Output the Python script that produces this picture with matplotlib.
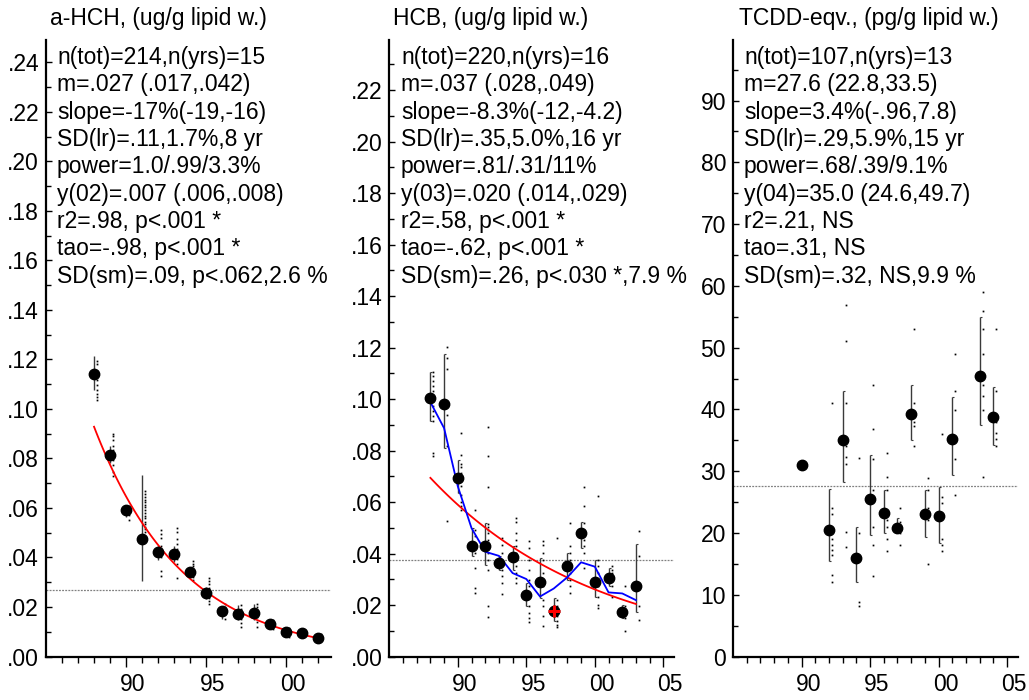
import matplotlib
matplotlib.use("Agg")
import matplotlib.pyplot as plt
import numpy as np
from matplotlib.ticker import FixedLocator, FuncFormatter
from matplotlib.transforms import ScaledTranslation

plt.rcParams['font.family'] = ['Liberation Sans', 'DejaVu Sans']
plt.rcParams['font.size'] = 16.5

# ---------------- a-HCH ----------------
hch_years = [1988, 1989, 1990, 1991, 1992, 1993, 1994, 1995, 1996, 1997, 1998, 1999, 2000, 2001, 2002]
hch_means = [.114, .0815, .0593, .0474, .0424, .0415, .034, .0257, .0182, .017, .0174, .0133, .0097, .0093, .0074]
hch_ci_lo = [.1075, .0782, .0563, .0304, .0388, .0381, .032, .0232, .0152, .0146, .0146, .0118, .0086, .0084, .007]
hch_ci_hi = [.1213, .0849, .0603, .0734, .0448, .0448, .0361, .0281, .0199, .0206, .0213, .0148, .0116, .0108, .009]
hch_samples = [
    [.1193, .118, .1155, .1135, .1115, .1095, .1075, .106, .1048, .1037],
    [.09, .0889, .0875, .0849, .0836, .0816, .0795, .0772, .0747, .073],
    [.0606, .0597, .0583, .057, .0553],
    [.0668, .0655, .0646, .0633, .0624, .0611, .0602, .0590, .058, .0568, .0558, .0545, .0536, .0524, .0513, .0502],
    [.0509, .0496, .048, .0448, .0435, .0415, .0401, .0347, .0327],
    [.052, .0502, .0475, .0455, .0435, .0415, .0395, .0374, .0318],
    [.0385, .0374, .0364, .035, .0334, .032, .031],
    [.0318, .0305, .0291, .0278, .0264, .0251, .0238, .0224, .0213],
    [.0213, .0199, .0186, .0172, .0152],
    [.0206, .0193, .0186, .0152, .0135, .0118],
    [.0213, .0199, .0183, .0169, .0159, .014, .0118],
    [.0148, .0138, .0129, .012, .0113],
    [.0116, .0108, .0099, .0089, .0078],
    [.0108, .0101, .0095, .0088],
    [.009, .0083, .0076, .0068],
]
hch_fit_ends = (.0928, .0074)
hch_mean_level = .027
hch_stats = ["n(tot)=214,n(yrs)=15", "m=.027 (.017,.042)", "slope=-17%(-19,-16)",
             "SD(lr)=.11,1.7%,8 yr", "power=1.0/.99/3.3%", "y(02)=.007 (.006,.008)",
             "r2=.98, p<.001 *", "tao=-.98, p<.001 *", "SD(sm)=.09, p<.062,2.6 %"]

# ---------------- HCB ----------------
hcb_years = [1988, 1989, 1990, 1991, 1992, 1993, 1994, 1995, 1996, 1997, 1998, 1999, 2000, 2001, 2002, 2003]
hcb_means = [.1004, .098, .0692, .0428, .0429, .0363, .0385, .0239, .029, .0175, .0353, .0478, .0289, .0306, .0174, .0274]
hcb_smooth = [.0988, .0887, .0661, .0499, .0407, .0391, .0324, .0301, .0233, .0264, .0308, .0366, .0349, .0249, .0245, .0219]
hcb_ci_lo = [.0913, .0809, .0636, .0389, .0357, .0337, .0337, .0195, .0227, .0137, .0298, .0421, .0233, .0272, .0149, .0171]
hcb_ci_hi = [.1107, .1176, .0764, .05, .0518, .0389, .0428, .0285, .0382, .0227, .0402, .0524, .0376, .0343, .0201, .0437]
hcb_samples = [
    [.1107, .1091, .1069, .1049, .103, .101, .0991, .0972, .0952, .0933, .0913, .079, .0777],
    [.1204, .1159, .1116, .0978, .094, .0816, .0525],
    [.087, .0784, .0749, .0736, .0713, .0687, .0664, .0628, .0602, .0583, .0568],
    [.0568, .0493, .0467, .0428, .0402, .0343, .0266, .0246],
    [.0891, .0777, .066, .0516, .0505, .0492, .0479, .0454, .0428, .0402, .0376, .0335, .0195, .0152],
    [.046, .0434, .0402, .037, .0337, .0314, .0285, .0244],
    [.0538, .0521, .048, .0454, .0428, .0402, .0376, .035, .0324, .0305, .0285],
    [.0447, .0421, .0376, .0337, .0298, .0272, .0233, .0195, .0169, .0149, .0133],
    [.0447, .0434, .0402, .0376, .0324, .0272, .0221, .0195, .0156, .0119],
    [.046, .0221, .0195, .0175, .0156, .0137, .0124, .0114],
    [.0518, .0428, .0402, .0376, .035, .0324, .0298, .0272, .0246],
    [.0658, .0585, .0518, .0492, .0467, .0454, .0428, .0402, .0343],
    [.0622, .0376, .035, .0324, .0298, .0272, .0233, .0201, .0188],
    [.035, .0337, .0324, .0311, .0298, .0272, .0231],
    [.0275, .0195, .0175, .0162, .0149, .0101],
    [.0486, .0391, .0195, .0143],
]
hcb_fit_ends = (.0694, .0204)
hcb_mean_level = .0375
hcb_flagged_year = 1997
hcb_stats = ["n(tot)=220,n(yrs)=16", "m=.037 (.028,.049)", "slope=-8.3%(-12,-4.2)",
             "SD(lr)=.35,5.0%,16 yr", "power=.81/.31/11%", "y(03)=.020 (.014,.029)",
             "r2=.58, p<.001 *", "tao=-.62, p<.001 *", "SD(sm)=.26, p<.030 *,7.9 %"]

# ---------------- TCDD-eqv. ----------------
tcdd_years = [1990, 1992, 1993, 1994, 1995, 1996, 1997, 1998, 1999, 2000, 2001, 2003, 2004]
tcdd_means = [31.0, 20.5, 35.0, 15.9, 25.5, 23.2, 20.8, 39.3, 23.0, 22.7, 35.2, 45.4, 38.7]
tcdd_ci_lo = [np.nan, 15.4, 28.3, 12.0, 19.7, 20.0, 20.1, 35.0, 19.4, 18.4, 29.4, 37.5, 34.2]
tcdd_ci_hi = [np.nan, 27.1, 42.9, 21.0, 32.6, 27.0, 22.4, 44.0, 27.0, 27.5, 42.0, 54.9, 43.7]
tcdd_samples = [
    [],
    [41, 24, 23.1, 19, 18.1, 17.3, 16.4, 13.2, 12.1],
    [56.9, 51, 41, 34, 32.3, 31.2, 20.1, 17.7],
    [32.1, 20, 16, 8.9, 8.1],
    [44, 36.9, 31.9, 27, 25.5, 21, 18.1, 13.1],
    [33, 29, 27, 22.1, 21, 19.1, 17],
    [24, 21.8, 20.8, 20, 18.1],
    [53, 41, 38, 37.3, 34],
    [28.9, 27, 24, 22.1, 15],
    [36, 25.9, 24.8, 22.9, 19.1, 18.1, 17],
    [49, 42.9, 39.9, 31.9, 26.2],
    [59, 56, 53, 49, 44, 42.1, 39.9, 29.1],
    [53, 42.9, 38, 36.1, 35.2, 34.1],
]
tcdd_mean_level = 27.6
tcdd_stats = ["n(tot)=107,n(yrs)=13", "m=27.6 (22.8,33.5)", "slope=3.4%(-.96,7.8)",
              "SD(lr)=.29,5.9%,15 yr", "power=.68/.39/9.1%", "y(04)=35.0 (24.6,49.7)",
              "r2=.21, NS", "tao=.31, NS", "SD(sm)=.32, NS,9.9 %"]

titles = ["a-HCH, (ug/g lipid w.)", "HCB, (ug/g lipid w.)", "TCDD-eqv., (pg/g lipid w.)"]

W, H = 1029, 700
fig = plt.figure(figsize=(W / 100, H / 100), dpi=100)

ax_left_px = [46, 389.3, 733]
ax_w_px = 285
ax_top_px, ax_bot_px = 40, 656.5


def make_axes(i, xmax, ymax, ymajor, yminor, yfmt, xmajor):
    ax = fig.add_axes([ax_left_px[i] / W, (H - ax_bot_px) / H, ax_w_px / W, (ax_bot_px - ax_top_px) / H])
    ax.set_xlim(1985, xmax)
    ax.set_ylim(0, ymax)
    for s in ("top", "right"):
        ax.spines[s].set_visible(False)
    for s in ("left", "bottom"):
        ax.spines[s].set_linewidth(1.6)
    ax.yaxis.set_major_locator(FixedLocator(ymajor))
    ax.yaxis.set_minor_locator(FixedLocator(yminor))
    ax.yaxis.set_major_formatter(FuncFormatter(yfmt))
    ax.tick_params(axis="y", which="major", direction="in", length=4.5, width=1, pad=5, labelsize=16.5)
    ax.tick_params(axis="y", which="minor", direction="in", length=3.5, width=1)
    minor_x = [y for y in range(1986, int(xmax) + 1) if y not in xmajor]
    ax.xaxis.set_major_locator(FixedLocator(xmajor))
    ax.xaxis.set_minor_locator(FixedLocator(minor_x))
    ax.xaxis.set_major_formatter(FuncFormatter(lambda v, p: f"{int(round(v)) % 100:02d}"))
    ax.tick_params(axis="x", which="major", direction="out", length=7, width=1, pad=5, labelsize=16.5)
    ax.tick_params(axis="x", which="minor", direction="out", length=4, width=1)
    off = ScaledTranslation(0.07, 0, fig.dpi_scale_trans)
    for lab in ax.get_xticklabels():
        lab.set_transform(lab.get_transform() + off)
    return ax


def draw_series(ax, years, means, lo, hi, samples, level, dx_hook, dx_dots):
    ax.axhline(level, color="#808080", lw=0.9, ls=(0, (1.5, 1)), zorder=1)
    for yr, a, b in zip(years, lo, hi):
        if np.isnan(a):
            continue
        ax.vlines(yr, a, b, color="#3a3a3a", lw=1.0, zorder=2)
        if dx_hook:
            ax.hlines([a, b], yr, yr + dx_hook, color="#3a3a3a", lw=0.8, zorder=2)
    for yr, vals in zip(years, samples):
        if vals:
            ax.plot([yr + dx_dots] * len(vals), vals, ls="none", marker="s",
                    ms=1.25, mew=0, mfc="black", zorder=3)
    ax.plot(years, means, ls="none", marker="o", ms=7.5, color="black", zorder=5)


def exp_curve(ax, years, ends, color):
    t = np.linspace(years[0], years[-1], 100)
    a, b = ends
    frac = (t - years[0]) / (years[-1] - years[0])
    ax.plot(t, a * (b / a) ** frac, color=color, lw=1.3, zorder=4)


fmt2 = lambda v, p: f"{v:.2f}".lstrip("0")
fmt0 = lambda v, p: f"{v:.0f}"

# Panel 1
ax1 = make_axes(0, 2002.8, 0.249, np.arange(0, 0.241, 0.02), np.arange(0.01, 0.25, 0.02), fmt2, [1990, 1995, 2000])
draw_series(ax1, hch_years, hch_means, hch_ci_lo, hch_ci_hi, hch_samples, hch_mean_level, 0.0, 0.2)
exp_curve(ax1, hch_years, hch_fit_ends, "red")

# Panel 2
ax2 = make_axes(1, 2005.8, 0.2395, np.arange(0, 0.221, 0.02), np.arange(0.01, 0.24, 0.02), fmt2, [1990, 1995, 2000, 2005])
draw_series(ax2, hcb_years, hcb_means, hcb_ci_lo, hcb_ci_hi, hcb_samples, hcb_mean_level, 0.15, 0.22)
exp_curve(ax2, hcb_years, hcb_fit_ends, "red")
ax2.plot(hcb_years, hcb_smooth, color="blue", lw=1.3, zorder=4)
fi = hcb_years.index(hcb_flagged_year)
ax2.plot([hcb_flagged_year], [hcb_means[fi]], ls="none", marker="+", ms=8, mew=2.2, color="red", zorder=6)

# Panel 3
ax3 = make_axes(2, 2005.8, 99.8, np.arange(0, 91, 10), np.arange(5, 100, 10), fmt0, [1990, 1995, 2000, 2005])
draw_series(ax3, tcdd_years, tcdd_means, tcdd_ci_lo, tcdd_ci_hi, tcdd_samples, tcdd_mean_level, 0.15, 0.22)

# Titles and statistics text
title_x = [50, 393, 739]
stats_x = [57, 401, 744]
for i, (tt, st) in enumerate(zip(titles, [hch_stats, hcb_stats, tcdd_stats])):
    fig.text(title_x[i] / W, 1 - 25 / H, tt, ha="left", va="baseline", fontsize=16.5)
    for j, line in enumerate(st):
        yb = 64 + 27.35 * j
        fig.text(stats_x[i] / W, 1 - yb / H, line, ha="left", va="baseline", fontsize=16.5)

fig.savefig("out.png", dpi=100)
